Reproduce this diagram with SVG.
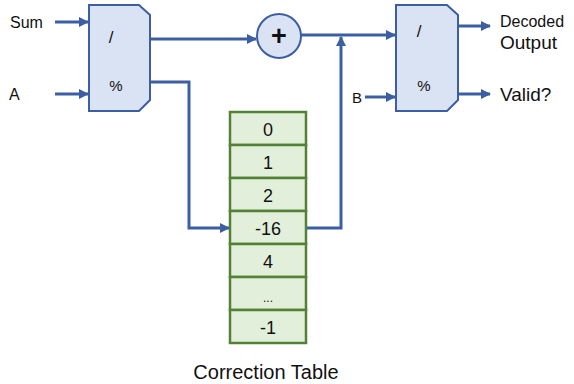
<svg xmlns="http://www.w3.org/2000/svg" width="574" height="384" viewBox="0 0 574 384">
<style>
.blk{fill:#dae3f3;stroke:#3c5fa3;stroke-width:2}
.cell{fill:#e2efda;stroke:#538135;stroke-width:2.5}
.w{fill:none;stroke:#3c5fa3;stroke-width:3}
text{font-family:"Liberation Sans",Arial,sans-serif;fill:#111}
.c{text-anchor:middle}
.n{font-size:18px}
</style>
<defs>
<marker id="ah" markerWidth="10" markerHeight="10" refX="9" refY="5" orient="auto" markerUnits="userSpaceOnUse">
<path d="M0,0 L10,5 L0,10 z" fill="#3c5fa3"/>
</marker>
</defs>
<g id="div1">
<path class="blk" d="M89,5 L139,5 L150,15 L150,100 L139,111 L89,111 z"/>
<text x="111" y="43" font-size="17" class="c">/</text>
<text x="116" y="91" font-size="15" class="c">%</text>
</g>
<g id="adder">
<circle class="blk" cx="279" cy="36" r="22"/>
<text x="279" y="45" font-size="27" class="c" font-weight="bold">+</text>
</g>
<g id="div2">
<path class="blk" d="M396,5 L447,5 L458,15 L458,100 L447,111 L396,111 z"/>
<text x="419" y="37" font-size="17" class="c">/</text>
<text x="424" y="91" font-size="15" class="c">%</text>
</g>
<g id="table">
<rect class="cell" x="230" y="112" width="76" height="33"/>
<rect class="cell" x="230" y="145" width="76" height="33"/>
<rect class="cell" x="230" y="178" width="76" height="33"/>
<rect class="cell" x="230" y="211" width="76" height="33"/>
<rect class="cell" x="230" y="244" width="76" height="33"/>
<rect class="cell" x="230" y="277" width="76" height="33"/>
<rect class="cell" x="230" y="310" width="76" height="33"/>
<text x="268" y="136" class="c n">0</text>
<text x="268" y="169" class="c n">1</text>
<text x="268" y="202" class="c n">2</text>
<text x="268" y="235" class="c n">-16</text>
<text x="268" y="268" class="c n">4</text>
<text x="268" y="302" font-size="12" class="c">...</text>
<text x="268" y="334" class="c n">-1</text>
<text x="266" y="379" font-size="20" class="c">Correction Table</text>
</g>
<g id="labels">
<text x="10" y="28" font-size="16">Sum</text>
<text x="9" y="100" font-size="16">A</text>
<text x="352" y="103" font-size="15">B</text>
<text x="500" y="27" font-size="16">Decoded</text>
<text x="500" y="49" font-size="19">Output</text>
<text x="500" y="101" font-size="19">Valid?</text>
</g>
<g id="connectors">
<path class="w" d="M55,22 L88,22" marker-end="url(#ah)"/>
<path class="w" d="M55,94 L88,94" marker-end="url(#ah)"/>
<path class="w" d="M150,39 L256,39" marker-end="url(#ah)"/>
<path class="w" d="M150,82 L189,82 L189,228 L229,228" marker-end="url(#ah)"/>
<path class="w" d="M301,35 L395,35" marker-end="url(#ah)"/>
<path class="w" d="M307,228 L341,228 L341,37" marker-end="url(#ah)"/>
<path class="w" d="M365,97 L395,97" marker-end="url(#ah)"/>
<path class="w" d="M458,26 L490,26" marker-end="url(#ah)"/>
<path class="w" d="M458,94 L490,94" marker-end="url(#ah)"/>
</g>
</svg>
